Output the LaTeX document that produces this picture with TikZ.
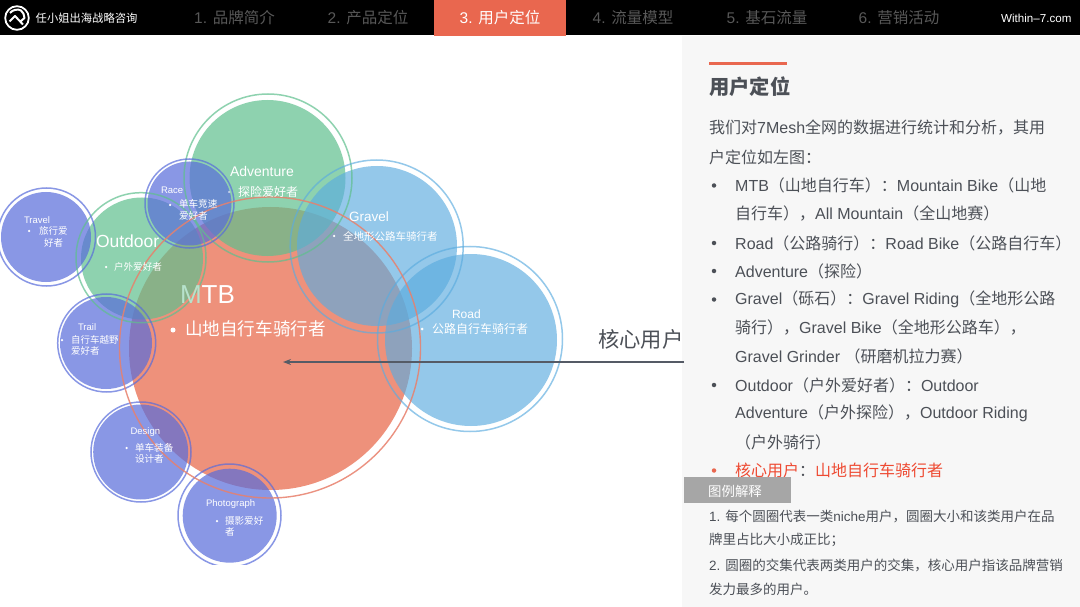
\documentclass[tikz,border=0pt]{standalone}
\usepackage{fontspec}
\usetikzlibrary{arrows.meta}
\setmainfont{Liberation Sans}
\newfontfamily\zhf{Noto Sans CJK SC}
\newfontfamily\cf{Liberation Sans}
\newcommand{\zh}[1]{{\zhf #1}}
\definecolor{hdr}{HTML}{000000}
\definecolor{tabgrey}{HTML}{585858}
\definecolor{accent}{HTML}{E9674F}
\definecolor{panelbg}{HTML}{F7F7F7}
\definecolor{ink}{HTML}{4C5057}
\definecolor{redtxt}{HTML}{EE4A32}
\definecolor{mtbf}{HTML}{EE917B}
\definecolor{mtbr}{HTML}{E8806C}
\definecolor{grn}{HTML}{5FBF8E}
\definecolor{blu}{HTML}{5BACDF}
\definecolor{pur}{HTML}{586CDB}
\definecolor{arrowc}{HTML}{555B66}
\tikzset{
  x=1pt,y=-1pt,
  fillg/.style={fill=grn,fill opacity=.7,draw=none},
  fillb/.style={fill=blu,fill opacity=.65,draw=none},
  fillp/.style={fill=pur,fill opacity=.7,draw=none},
  ringg/.style={draw=grn,draw opacity=.7,line width=1.5pt,fill=none},
  ringb/.style={draw=blu,draw opacity=.65,line width=1.5pt,fill=none},
  ringp/.style={draw=pur,draw opacity=.7,line width=1.5pt,fill=none},
  ringo/.style={draw=mtbr,line width=1.4pt,fill=none},
  tx/.style={inner sep=0pt,outer sep=0pt,anchor=west,text=white,font=\cf},
  tabt/.style={inner sep=0pt,anchor=center,text=tabgrey,font=\fontsize{15.5}{15.5}\selectfont},
  pline/.style={inner sep=0pt,anchor=west,text=ink,font=\fontsize{16}{16}\selectfont},
  lline/.style={inner sep=0pt,anchor=west,text=ink,font=\fontsize{13.5}{13.5}\selectfont},
  dot/.style={circle,fill=white,inner sep=0pt,minimum size=#1},
  pdot/.style={circle,fill=ink,inner sep=0pt,minimum size=4.5pt},
}
\begin{document}
\begin{tikzpicture}
\useasboundingbox (0,0) rectangle (1080,607);
\fill[white] (0,0) rectangle (1080,607);
% panel
\fill[panelbg] (682,36) rectangle (1080,607);
% circles, clipped at the image's lower edge
\begin{scope}
\clip (0,36) rectangle (682,564);
\fill[mtbf] (270.5,348.5) circle[radius=141.5];
\fill[fillg] (267.5,178) circle[radius=78];
\fill[fillg] (142,258.5) circle[radius=61];
\fill[fillb] (377,246) circle[radius=80];
\fill[fillb] (471,340) circle[radius=86];
\fill[fillp] (46,237) circle[radius=45];
\fill[fillp] (189.5,203.5) circle[radius=42];
\fill[fillp] (106,343) circle[radius=46];
\fill[fillp] (140.7,452) circle[radius=47.5];
\fill[fillp] (229.7,515.7) circle[radius=47];
\draw[ringg] (268,178) circle[radius=84];
\draw[ringg] (141,257.7) circle[radius=65];
\draw[ringb] (376.7,246.5) circle[radius=86.5];
\draw[ringb] (470,339) circle[radius=92.5];
\draw[ringp] (46.5,237) circle[radius=49];
\draw[ringp] (189.5,203.5) circle[radius=44.5];
\draw[ringp] (106.7,343) circle[radius=49];
\draw[ringp] (141,452) circle[radius=50];
\draw[ringp] (229.5,515.5) circle[radius=51.5];
\draw[ringo,draw opacity=.85] (270,347.5) circle[radius=150.5];
\end{scope}
% circle labels
\node[tx,font=\cf\fontsize{26}{26}\selectfont] (mtb) at (180,295) {\textcolor{white!55!grn}{M}TB};
\node[tx,font=\cf\fontsize{14}{14}\selectfont] (adv) at (230,171) {Adventure};
\node[dot=2.5pt,fill opacity=.6] (advd) at (229,192) {};
\node[tx] (advz) at (238,192) {\zhf\fontsize{12}{12}\selectfont 探险爱好者};
\node[tx,font=\cf\fontsize{13.5}{13.5}\selectfont] (grv) at (349,217) {Gravel};
\node[dot=2.5pt] (grvd) at (334,236) {};
\node[tx] (grvz) at (343,236) {\zhf\fontsize{10.5}{10.5}\selectfont 全地形公路车骑行者};
\node[tx,font=\cf\fontsize{12}{12}\selectfont] (rd) at (452,314) {Road};
\node[dot=3pt] (rdd) at (422,329) {};
\node[tx] (rdz) at (432,329) {\zhf\fontsize{12}{12}\selectfont 公路自行车骑行者};
\node[dot=5pt] (mtbd) at (173,330) {};
\node[tx] (mtbz) at (185,329) {\zhf\fontsize{17.6}{17.6}\selectfont 山地自行车骑行者};
\node[tx,font=\cf\fontsize{17.5}{17.5}\selectfont] (out) at (96,241) {Outdoor};
\node[dot=2.5pt] (outd) at (106,267) {};
\node[tx] (outz) at (114,267) {\zhf\fontsize{9.6}{9.6}\selectfont 户外爱好者};
\node[tx,font=\cf\fontsize{9.5}{9.5}\selectfont] (trv) at (24,220) {Travel};
\node[dot=2.5pt] (trvd) at (29,231) {};
\node[tx] (trvz) at (39,231) {\zhf\fontsize{9.5}{9.5}\selectfont 旅行爱};
\node[tx] (trvy) at (44,243) {\zhf\fontsize{9.5}{9.5}\selectfont 好者};
\node[tx,font=\cf\fontsize{9.5}{9.5}\selectfont] (rac) at (161,190) {Race};
\node[dot=2.5pt] (racd) at (170,205) {};
\node[tx] (racz) at (179,204) {\zhf\fontsize{9.6}{9.6}\selectfont 单车竞速};
\node[tx] (racy) at (179,215.5) {\zhf\fontsize{9.6}{9.6}\selectfont 爱好者};
\node[tx,font=\cf\fontsize{9.5}{9.5}\selectfont] (trl) at (78,327) {Trail};
\node[dot=2.5pt] (trld) at (62,340) {};
\node[tx] (trlz) at (71,340) {\zhf\fontsize{9.5}{9.5}\selectfont 自行车越野};
\node[tx] (trly) at (71,351) {\zhf\fontsize{9.5}{9.5}\selectfont 爱好者};
\node[tx,font=\cf\fontsize{9.5}{9.5}\selectfont] (dsg) at (130.5,432) {Design};
\node[dot=2.5pt] (dsgd) at (126.7,448) {};
\node[tx] (dsgz) at (135,448) {\zhf\fontsize{9.6}{9.6}\selectfont 单车装备};
\node[tx] (dsgy) at (135,459) {\zhf\fontsize{9.6}{9.6}\selectfont 设计者};
\node[tx,font=\cf\fontsize{9.5}{9.5}\selectfont] (pht) at (206,504) {Photograph};
\node[dot=2.5pt] (phtd) at (217,521) {};
\node[tx] (phtz) at (225,521) {\zhf\fontsize{9.6}{9.6}\selectfont 摄影爱好};
\node[tx] (phty) at (225,532) {\zhf\fontsize{9.6}{9.6}\selectfont 者};
% core user arrow
\coordinate (arrS) at (684,362);
\coordinate (arrE) at (283,362);
\draw[arrowc,line width=1.5pt,-{Stealth[length=8pt,width=6pt]}] (arrS) -- (arrE);
\node[inner sep=0pt,anchor=west,text=ink] (core) at (598,339) {\zhf\fontsize{21.3}{21.3}\selectfont 核心用户};
% header
\fill[hdr] (0,0) rectangle (1080,35.5);
\fill[accent] (434,0) rectangle (566,36);
\draw[white,line width=1.8pt] (17,18) circle[radius=11.8];
\draw[white,line width=2pt,line join=round] (9.5,21.5) -- (15,16) -- (23,24.5) (10,13) .. controls (12,10) and (18,8.5) .. (21,10.5) .. controls (23,12) and (24.5,15) .. (24.5,18) -- (21,21);
\node[inner sep=0pt,anchor=west,text=white] (brand) at (35.5,18) {\zhf\fontsize{11.3}{11.3}\selectfont 任小姐出海战略咨询};
\node[tabt] (t1) at (234.5,18) {1. \zh{品牌简介}};
\node[tabt] (t2) at (368,18) {2. \zh{产品定位}};
\node[tabt,text=white] (t3) at (500,18) {3. \zh{用户定位}};
\node[tabt] (t4) at (633,18) {4. \zh{流量模型}};
\node[tabt] (t5) at (767,18) {5. \zh{基石流量}};
\node[tabt] (t6) at (899,18) {6. \zh{营销活动}};
\node[inner sep=0pt,anchor=west,text=white,font=\fontsize{11.6}{11.6}\selectfont] (site) at (1001,18) {Within–7.com};
% panel heading
\fill[accent] (709,62) rectangle (787,65.5);
\node[inner sep=0pt,anchor=west,text=ink] (head) at (709,87) {\zhf\bfseries\fontsize{20.3}{20.3}\selectfont 用户定位};
% panel body
\node[pline] (p1) at (709,128) {\zh{我们对}7Mesh\zh{全网的数据进行统计和分析，其用}};
\node[pline] (p2) at (709,157) {\zh{户定位如左图：}};
\node[pdot] (b1) at (714,185.5) {};
\node[pline] (p3) at (735,185.5) {MTB\zh{（山地自行车）：}Mountain Bike\zh{（山地}};
\node[pline] (p4) at (735,214) {\zh{自行车），}All Mountain\zh{（全山地赛）}};
\node[pdot] (b2) at (714,243) {};
\node[pline] (p5) at (735,243) {Road\zh{（公路骑行）：}Road Bike\zh{（公路自行车）}};
\node[pdot] (b3) at (714,271) {};
\node[pline] (p6) at (735,271) {Adventure\zh{（探险）}};
\node[pdot] (b4) at (714,299.5) {};
\node[pline] (p7) at (735,299.5) {Gravel\zh{（砾石）：}Gravel Riding\zh{（全地形公路}};
\node[pline] (p8) at (735,328) {\zh{骑行），}Gravel Bike\zh{（全地形公路车），}};
\node[pline] (p9) at (735,356.5) {Gravel Grinder \zh{（研磨机拉力赛）}};
\node[pdot] (b5) at (714,385) {};
\node[pline] (p10) at (735,385) {Outdoor\zh{（户外爱好者）：}Outdoor};
\node[pline] (p11) at (735,413.5) {Adventure\zh{（户外探险），}Outdoor Riding};
\node[pline] (p12) at (735,442) {\zh{（户外骑行）}};
\node[pdot,fill=accent] (b6) at (714,470.5) {};
\node[pline] (p13) at (735,470.5) {\zh{\textcolor{redtxt}{核心用户}：\textcolor{redtxt}{山地自行车骑行者}}};
% legend
\node[inner sep=0pt,minimum width=107pt,minimum height=26pt,fill=black!35,anchor=north west] (lg) at (684,477) {};
\node[inner sep=0pt,anchor=west,text=white] (lgt) at (708,491) {\zhf\fontsize{13.4}{13.4}\selectfont 图例解释};
\node[lline] (l1) at (709,516.5) {1. \zh{每个圆圈代表一类}niche\zh{用户，圆圈大小和该类用户在品}};
\node[lline] (l2) at (709,540) {\zh{牌里占比大小成正比；}};
\node[lline] (l3) at (709,565) {2. \zh{圆圈的交集代表两类用户的交集，核心用户指该品牌营销}};
\node[lline] (l4) at (709,589.5) {\zh{发力最多的用户。}};
\end{tikzpicture}
\end{document}
